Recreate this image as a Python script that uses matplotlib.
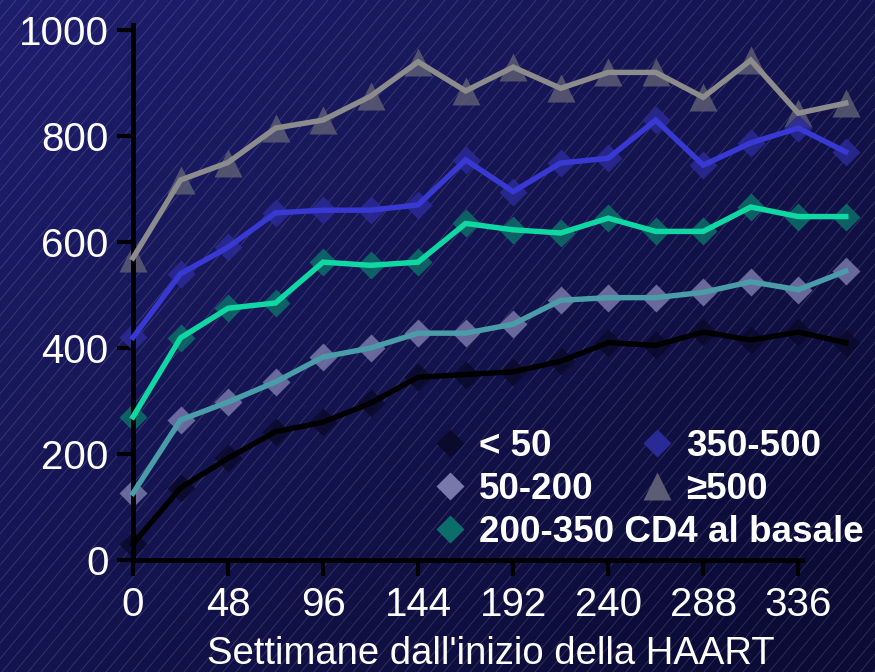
import matplotlib
matplotlib.use('Agg')
import matplotlib.pyplot as plt
from matplotlib.lines import Line2D
import numpy as np

plt.rcParams['font.family'] = ['Liberation Sans', 'DejaVu Sans']

weeks = [0, 24, 48, 72, 96, 120, 144, 168, 192, 216, 240, 264, 288, 312, 336, 360]

cd4_lt50 = [30, 136, 192, 242, 260, 296, 345, 350, 355, 375, 410, 405, 430, 415, 430, 410]
cd4_50_200 = [126, 264, 298, 336, 383, 400, 428, 428, 445, 490, 495, 495, 505, 525, 510, 545]
cd4_200_350 = [270, 419, 475, 485, 562, 556, 562, 635, 623, 617, 645, 620, 620, 666, 648, 648]
cd4_350_500 = [420, 540, 590, 655, 660, 660, 670, 755, 695, 749, 758, 830, 745, 787, 815, 770]
cd4_ge500 = [570, 717, 750, 815, 830, 875, 940, 885, 930, 890, 920, 920, 873, 943, 843, 862]

xticks = [0, 48, 96, 144, 192, 240, 288, 336]
yticks = [0, 200, 400, 600, 800, 1000]

# (values, line colour, marker, marker colour, legend label)
series = [
    (cd4_ge500, '#8c8c8c', '^', '#5c5c74', '\u2265500'),
    (cd4_350_500, '#3838d2', 'D', '#2a2a96', '350-500'),
    (cd4_200_350, '#10d8a2', 'D', '#0c6e68', '200-350 CD4 al basale'),
    (cd4_50_200, '#4a9ca8', 'D', '#7878aa', '50-200'),
    (cd4_lt50, '#000000', 'D', '#0a0a2c', '< 50'),
]

fig = plt.figure(figsize=(8.75, 6.72), dpi=100)

# navy gradient background with thin diagonal hatching
bg = fig.add_axes([0, 0, 1, 1], zorder=-10)
gx, gy = np.meshgrid(np.linspace(0, 1, 200), np.linspace(0, 1, 200))
t = np.clip(0.55 * gx + 0.55 * gy, 0, 1)
top = np.array([0x1e, 0x1e, 0x6e]) / 255
bot = np.array([0x0b, 0x0b, 0x36]) / 255
img = top[None, None, :] * (1 - t[..., None]) + bot[None, None, :] * t[..., None]
bg.imshow(img, extent=[0, 875, 672, 0], aspect='auto')
slope = 1.2
for x0 in np.arange(-700, 900, 13):
    bg.plot([x0, x0 + 672 / slope], [672, 0], color='white', alpha=0.16, lw=0.6)
bg.set_xlim(0, 875)
bg.set_ylim(672, 0)
bg.axis('off')

ax = fig.add_axes([133 / 875, 112 / 672, 742 / 875, 560 / 672])
ax.patch.set_alpha(0)
ax.set_xlim(0, 742 / 1.98)
ax.set_ylim(0, 560 / 0.53)

for vals, lc, mk, mc, lab in series:
    ax.plot(weeks, vals, linestyle='none', marker=mk, ms=20 if mk == '^' else 14,
            mfc=mc, mec='none', alpha=0.85, zorder=2, clip_on=False)
for vals, lc, mk, mc, lab in series:
    ax.plot(weeks, vals, color=lc, lw=3.9, zorder=3, solid_joinstyle='miter',
            clip_on=False)

for s in ['top', 'right']:
    ax.spines[s].set_visible(False)
for s in ['left', 'bottom']:
    ax.spines[s].set_linewidth(3.5)
    ax.spines[s].set_color('black')
ax.spines['left'].set_bounds(0, 1010)
ax.spines['bottom'].set_bounds(0, 338)

ax.set_xticks(xticks)
ax.set_yticks(yticks)
ax.tick_params(axis='both', colors='black', width=3, length=11.5,
               labelcolor='white', labelsize=29)
ax.tick_params(axis='y', pad=6)
ax.tick_params(axis='x', pad=7)

ax.set_xlabel("Settimane dall'inizio della HAART", color='white', fontsize=27.5)
ax.xaxis.set_label_coords(0.482, -0.135)

def handle(mk, mc):
    return Line2D([], [], linestyle='none', marker=mk, ms=20 if mk == '^' else 14,
                  mfc=mc, mec='none')

col1 = [series[4], series[3], series[2]]
col2 = [series[1], series[0]]
leg_kw = dict(frameon=False, labelcolor='white', handlelength=1.0,
              handletextpad=0.3, labelspacing=0.22, borderpad=0,
              borderaxespad=0, prop={'weight': 'bold', 'size': 26.5})
leg1 = ax.legend([handle(s[2], s[3]) for s in col1], [s[4] for s in col1],
                 loc='upper left', bbox_to_anchor=(0.402, 0.234), **leg_kw)
ax.add_artist(leg1)
ax.legend([handle(s[2], s[3]) for s in col2], [s[4] for s in col2],
          loc='upper left', bbox_to_anchor=(0.681, 0.234), **leg_kw)

fig.savefig('out.png', dpi=100)
